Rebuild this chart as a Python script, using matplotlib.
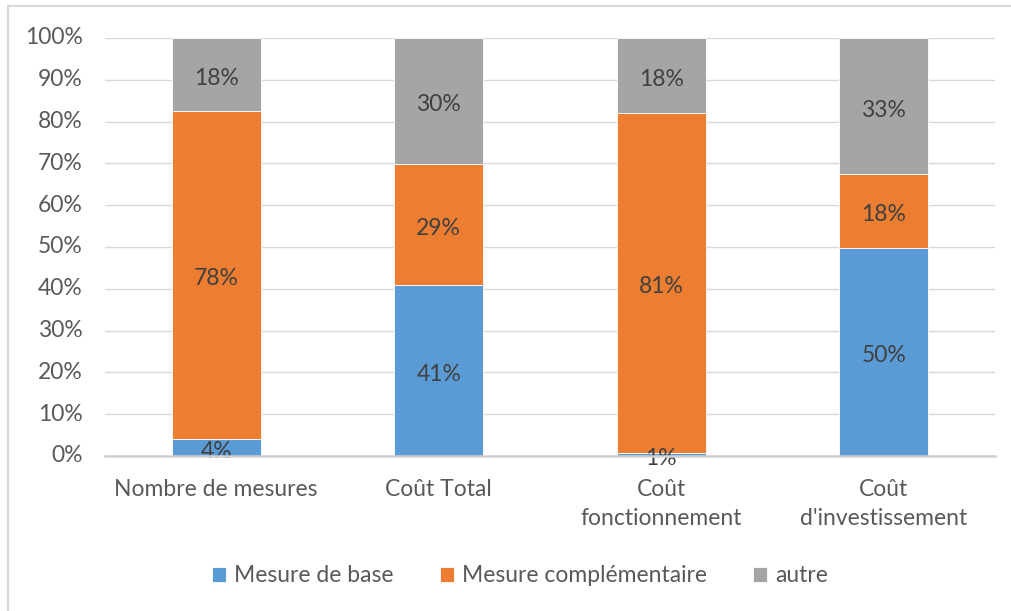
import matplotlib
matplotlib.use("Agg")
import matplotlib.pyplot as plt
from matplotlib.patches import Rectangle
import numpy as np

categories = ["Nombre de mesures", "Coût Total", "Coût\nfonctionnement", "Coût\nd'investissement"]
series_names = ["Mesure de base", "Mesure complémentaire", "autre"]
base = [4.1, 40.9, 0.7, 49.8]
complementaire = [78.4, 29.0, 81.4, 17.6]
autre = [17.5, 30.1, 17.9, 32.6]
colors = ["#5B9BD5", "#ED7D31", "#A5A5A5"]
yticks = list(range(0, 101, 10))

plt.rcParams['font.family'] = ['Lato', 'DejaVu Sans']
txt = "#595959"
fs = 16.5

fig = plt.figure(figsize=(10.11, 6.11), dpi=100)
fig.patches.append(Rectangle((7.5/1011, -0.1), 1.2, (605/611) + 0.1, transform=fig.transFigure,
                             fill=False, edgecolor="#D9D9D9", linewidth=1.5))
ax = fig.add_axes([105/1011, 155/611, 890/1011, 418/611])

x = np.arange(len(categories))
bottom = np.zeros(len(categories))
for name, vals, c in zip(series_names, [base, complementaire, autre], colors):
    vals = np.array(vals)
    ax.bar(x, vals, 0.4, bottom=bottom, color=c, label=name, edgecolor="white", linewidth=0.6, zorder=3)
    for xi, b, v in zip(x, bottom, vals):
        ax.annotate(f"{round(v):d}%", (xi, b + v / 2), xytext=(0, -2.8), textcoords="offset points",
                    ha="center", va="center", fontsize=fs, color="#404040", zorder=4)
    bottom += vals

ax.set_xlim(-0.5, 3.5)
ax.set_ylim(0, 100)
ax.set_yticks(yticks)
ax.set_yticklabels([f"{t}%" for t in yticks])
ax.set_xticks(x)
ax.set_xticklabels(categories, linespacing=1.5)
ax.tick_params(axis="both", length=0, labelsize=fs, labelcolor=txt)
ax.tick_params(axis="y", pad=16)
ax.tick_params(axis="x", pad=16.5)
for lbl in ax.get_yticklabels():
    lbl.set_verticalalignment("center")
for s in ["top", "right", "left"]:
    ax.spines[s].set_visible(False)
ax.spines["bottom"].set_color("#D0D0D0")
ax.spines["bottom"].set_linewidth(1.8)
ax.spines["bottom"].set_zorder(5)
ax.grid(axis="y", color="#D9D9D9", linewidth=1.0, zorder=0)
ax.set_axisbelow(True)

leg = fig.legend(loc="center", bbox_to_anchor=(520/1011, 1 - 576/611), ncol=3, frameon=False,
                 fontsize=fs, handlelength=0.62, handleheight=0.62, handletextpad=0.35, columnspacing=2.0)
for t in leg.get_texts():
    t.set_color(txt)

fig.savefig("out.png", dpi=100)
